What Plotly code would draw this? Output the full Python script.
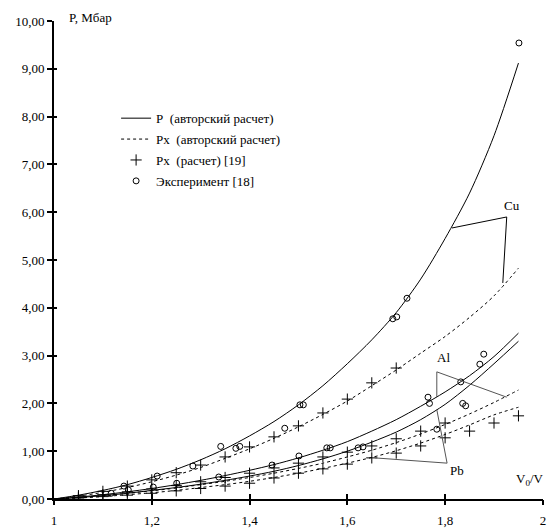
import plotly.graph_objects as go

# ---- data ----
x_curve = [1.00, 1.05, 1.10, 1.15, 1.20, 1.25, 1.30, 1.35, 1.40, 1.45,
           1.50, 1.55, 1.60, 1.65, 1.70, 1.75, 1.80, 1.85, 1.90, 1.95]
cu_p = [0, 0.08, 0.18, 0.30, 0.45, 0.62, 0.82, 1.05, 1.32, 1.62,
        1.97, 2.37, 2.83, 3.33, 3.90, 4.60, 5.45, 6.40, 7.60, 9.12]
cu_px = [0, 0.06, 0.14, 0.24, 0.36, 0.50, 0.66, 0.85, 1.05, 1.27,
         1.51, 1.77, 2.05, 2.37, 2.70, 3.05, 3.40, 3.80, 4.25, 4.83]
al_p = [0, 0.04, 0.09, 0.15, 0.22, 0.30, 0.39, 0.49, 0.60, 0.72,
        0.86, 1.02, 1.20, 1.42, 1.66, 1.94, 2.24, 2.58, 2.98, 3.47]
al_px = [0, 0.03, 0.07, 0.12, 0.17, 0.23, 0.30, 0.37, 0.45, 0.54,
         0.64, 0.75, 0.88, 1.02, 1.18, 1.36, 1.56, 1.78, 2.02, 2.28]
pb_p = [0, 0.03, 0.07, 0.12, 0.18, 0.24, 0.31, 0.39, 0.48, 0.58,
        0.70, 0.84, 1.00, 1.19, 1.40, 1.66, 1.98, 2.38, 2.83, 3.30]
pb_px = [0, 0.02, 0.05, 0.09, 0.13, 0.18, 0.24, 0.30, 0.37, 0.45,
         0.54, 0.64, 0.75, 0.87, 1.01, 1.17, 1.35, 1.55, 1.76, 1.92]

cu_calc_x = [1.05, 1.10, 1.15, 1.20, 1.25, 1.30, 1.35, 1.40, 1.45, 1.50, 1.55, 1.60, 1.65, 1.70]
cu_calc_y = [0.07, 0.16, 0.27, 0.40, 0.55, 0.71, 0.88, 1.09, 1.30, 1.53, 1.80, 2.09, 2.43, 2.74]
al_calc_x = [1.05, 1.10, 1.15, 1.20, 1.25, 1.30, 1.35, 1.40, 1.45, 1.50, 1.55, 1.60, 1.65, 1.70, 1.75, 1.80]
al_calc_y = [0.04, 0.09, 0.15, 0.21, 0.28, 0.36, 0.45, 0.54, 0.65, 0.75, 0.88, 0.98, 1.11, 1.26, 1.42, 1.59]
pb_calc_x = [1.05, 1.10, 1.15, 1.20, 1.25, 1.30, 1.35, 1.40, 1.45, 1.50, 1.55, 1.60, 1.65, 1.70, 1.75, 1.80, 1.85, 1.90, 1.95]
pb_calc_y = [0.02, 0.05, 0.08, 0.12, 0.17, 0.22, 0.27, 0.33, 0.44, 0.54, 0.63, 0.73, 0.86, 0.96, 1.11, 1.28, 1.42, 1.59, 1.74]

cu_exp_x = [1.143, 1.211, 1.284, 1.341, 1.372, 1.380, 1.472, 1.503, 1.510, 1.693, 1.701, 1.722, 1.951]
cu_exp_y = [0.27, 0.48, 0.69, 1.10, 1.06, 1.10, 1.48, 1.97, 1.97, 3.77, 3.81, 4.20, 9.54]
al_exp_x = [1.117, 1.152, 1.203, 1.251, 1.337, 1.446, 1.501, 1.558, 1.565, 1.765, 1.768, 1.832, 1.871, 1.879]
al_exp_y = [0.12, 0.19, 0.25, 0.33, 0.46, 0.71, 0.90, 1.07, 1.07, 2.13, 2.00, 2.45, 2.82, 3.03]
pb_exp_x = [1.622, 1.632, 1.783, 1.836, 1.842]
pb_exp_y = [1.07, 1.09, 1.46, 2.00, 1.95]

x_ticks = [1, 1.2, 1.4, 1.6, 1.8, 2]
x_tick_labels = ["1", "1,2", "1,4", "1,6", "1,8", "2"]
y_ticks = [0, 1, 2, 3, 4, 5, 6, 7, 8, 9, 10]
y_tick_labels = ["0,00", "1,00", "2,00", "3,00", "4,00", "5,00",
                 "6,00", "7,00", "8,00", "9,00", "10,00"]

FONT = "Liberation Serif, Times New Roman, serif"
BLACK = "#000000"

fig = go.Figure()

def line(x, y, dash, name=None, show=False, group=None):
    fig.add_trace(go.Scatter(
        x=x, y=y, mode="lines", name=name, showlegend=show, legendgroup=group,
        line=dict(color=BLACK, width=1, dash=dash, shape="spline", smoothing=0.8),
        hoverinfo="skip"))

def pts(x, y, symbol, size, name=None, show=False, group=None):
    fig.add_trace(go.Scatter(
        x=x, y=y, mode="markers", name=name, showlegend=show, legendgroup=group,
        marker=dict(symbol=symbol, size=size, color=BLACK,
                    line=dict(color=BLACK, width=1)),
        hoverinfo="skip"))

line(x_curve, cu_p, "solid", "P\u00a0 (авторский расчет)", True, "a")
line(x_curve, cu_px, "3px,3px", "Px\u00a0 (авторский расчет)", True, "b")
pts(cu_calc_x, cu_calc_y, "cross-thin-open", 8, "Px\u00a0 (расчет) [19]", True, "c")
pts(cu_exp_x, cu_exp_y, "circle-open", 6, "Эксперимент [18]", True, "d")
line(x_curve, al_p, "solid")
line(x_curve, al_px, "3px,3px")
line(x_curve, pb_p, "solid")
line(x_curve, pb_px, "3px,3px")
pts(al_calc_x, al_calc_y, "cross-thin-open", 8)
pts(pb_calc_x, pb_calc_y, "cross-thin-open", 8)
pts(al_exp_x, al_exp_y, "circle-open", 6)
pts(pb_exp_x, pb_exp_y, "circle-open", 6)

# invisible trace to carry the overlay axes (outer tick halves)
fig.add_trace(go.Scatter(x=[None], y=[None], xaxis="x2", yaxis="y2",
                         showlegend=False, hoverinfo="skip"))

# label pointers
ptr = dict(color="#000000", width=1)
ptr_g = dict(color="#555555", width=1)
shapes = [
    dict(type="line", x0=1.814, y0=5.67, x1=1.926, y1=5.90, line=ptr),
    dict(type="line", x0=1.926, y0=5.90, x1=1.918, y1=4.52, line=ptr),
    dict(type="line", x0=1.783, y0=2.66, x1=1.783, y1=2.13, line=ptr_g),
    dict(type="line", x0=1.783, y0=2.66, x1=1.926, y1=2.13, line=ptr_g),
    dict(type="line", x0=1.783, y0=1.87, x1=1.804, y1=0.75, line=ptr_g),
    dict(type="line", x0=1.804, y0=0.75, x1=1.656, y1=0.86, line=ptr_g),
]
for s in shapes:
    s.update(xref="x", yref="y", layer="above")

tf = dict(family=FONT, size=13, color=BLACK)
annotations = [
    dict(x=1.937, y=6.15, text="Cu", showarrow=False, font=tf),
    dict(x=1.796, y=2.95, text="Al", showarrow=False, font=tf),
    dict(x=1.824, y=0.60, text="Pb", showarrow=False, font=tf),
    dict(x=1.0, xref="paper", y=0.04, yref="paper", text="V<sub>0</sub>/V",
         showarrow=False, font=tf, xanchor="right", yanchor="middle", xshift=3),
    dict(x=0.0, xref="paper", y=1.0, yref="paper", text="P, Мбар",
         showarrow=False, font=tf, xanchor="left", yanchor="bottom",
         xshift=13, yshift=-6),
]

axis_common = dict(showgrid=False, zeroline=False, color=BLACK, automargin=False,
                   ticklabeloverflow="allow",
                   tickfont=dict(family=FONT, size=13, color=BLACK))

fig.update_layout(
    width=548, height=529,
    margin=dict(l=54, r=5, t=21, b=30),
    paper_bgcolor="white", plot_bgcolor="white",
    separators=", ",
    font=dict(family=FONT, size=13, color=BLACK),
    showlegend=True,
    legend=dict(x=0.127, y=0.828, xanchor="left", yanchor="top",
                bgcolor="rgba(0,0,0,0)", borderwidth=0,
                font=dict(family=FONT, size=13, color=BLACK),
                itemwidth=30, tracegroupgap=1),
    xaxis=dict(range=[1, 2.0002], tickvals=x_ticks, ticktext=x_tick_labels,
               ticks="inside", ticklen=5, ticklabelstandoff=8,
               tickwidth=2, tickcolor=BLACK, showline=True, linewidth=2,
               linecolor=BLACK, **axis_common),
    yaxis=dict(range=[0, 10], tickvals=y_ticks, ticktext=y_tick_labels,
               ticks="outside", ticklen=5, tickwidth=2, tickcolor=BLACK,
               showline=True, linewidth=2, linecolor=BLACK, **axis_common),
    xaxis2=dict(range=[1, 2.0002], tickvals=x_ticks, ticks="outside", ticklen=5,
                tickwidth=2, tickcolor=BLACK, showticklabels=False,
                overlaying="x", anchor="y2", side="bottom", showgrid=False,
                zeroline=False, showline=False, automargin=False),
    yaxis2=dict(range=[0, 10], tickvals=y_ticks, ticks="inside", ticklen=3,
                tickwidth=2, tickcolor=BLACK, showticklabels=False,
                overlaying="y", anchor="x2", side="left", showgrid=False,
                zeroline=False, showline=False, automargin=False),
    shapes=shapes,
    annotations=annotations,
)

fig.write_html(
    "out.html",
    config={"displayModeBar": False, "staticPlot": True},
    post_script="document.body.style.margin='0';"
                "document.documentElement.style.overflow='hidden';"
                "document.body.style.overflow='hidden';")
